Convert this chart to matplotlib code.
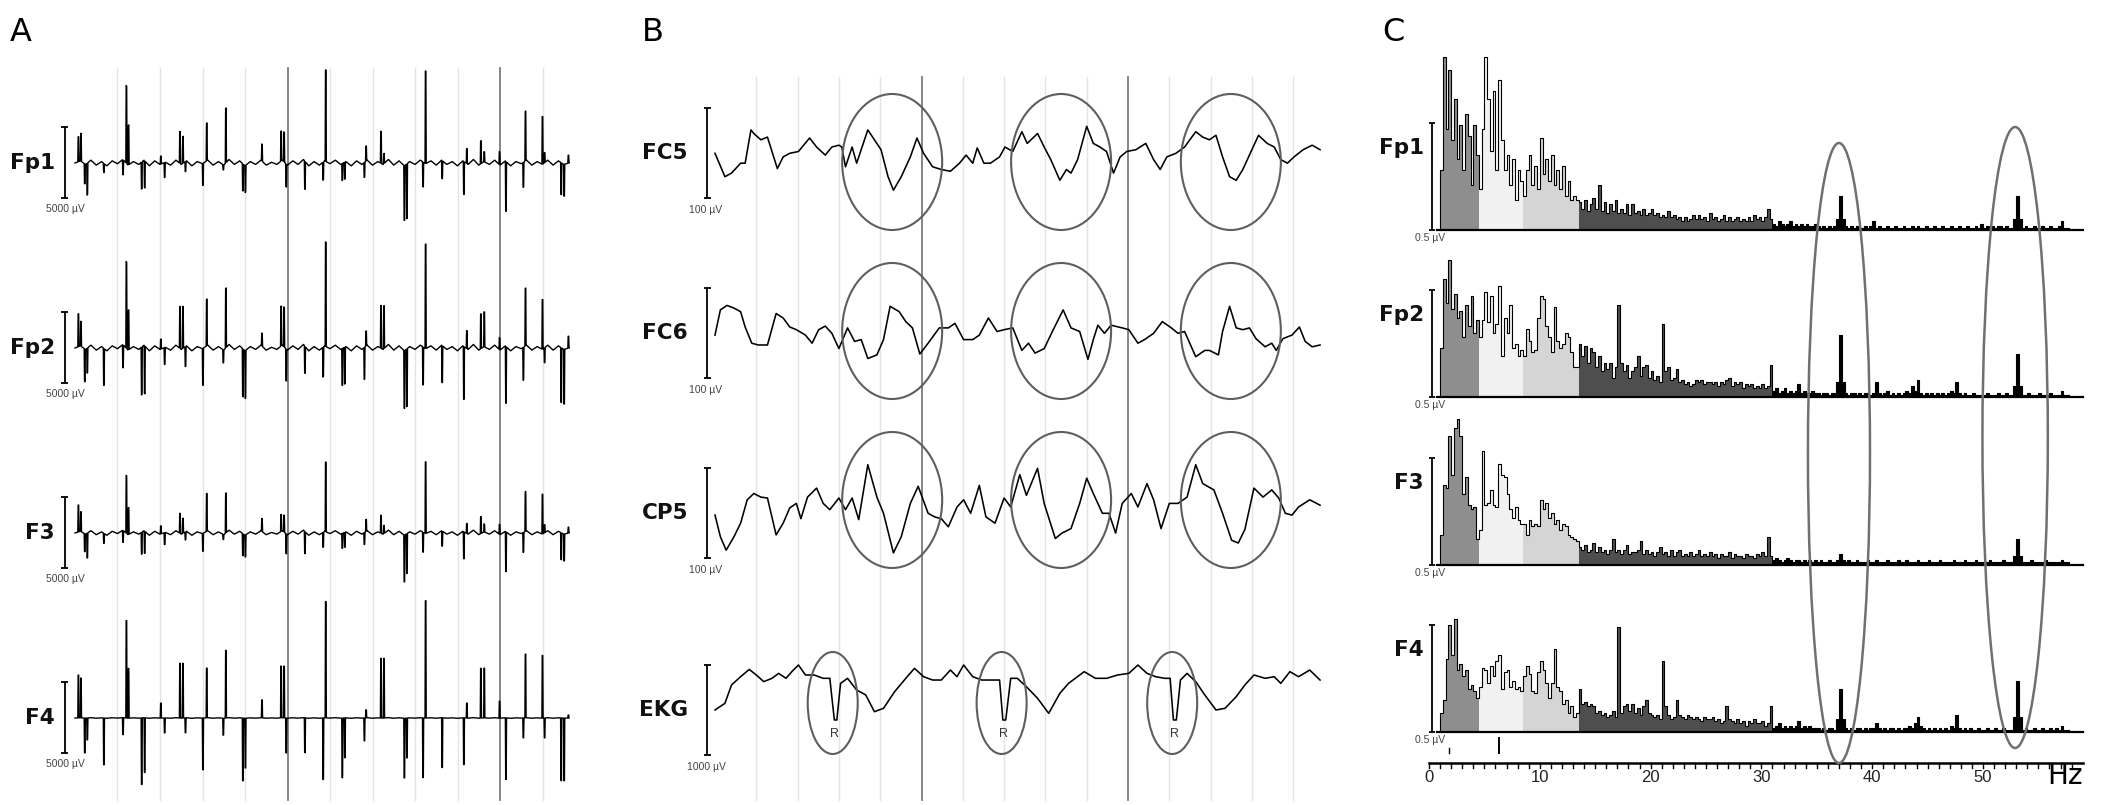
import numpy as np
import matplotlib
matplotlib.use("Agg")
import matplotlib.pyplot as plt
from matplotlib.patches import Ellipse

# ------------------------------------------------------------------ DATA
# Panel A : spike artefacts (time in s, amplitude in uV)
A_channels = ["Fp1", "Fp2", "F3", "F4"]
A_scale_uv = 5000
A_event_t = [0.08, 0.14, 0.23, 0.29, 0.68, 1.13, 1.21, 1.26, 1.57, 1.64,
             2.02, 2.11, 2.47, 2.54, 2.60, 3.01, 3.10, 3.49, 3.55, 3.95,
             4.01, 4.40, 4.85, 4.92, 4.97, 5.41, 5.84, 5.90, 6.29, 6.35,
             6.81, 6.85, 7.20, 7.27, 7.75, 7.81, 8.19, 8.25, 8.64, 9.15,
             9.22, 9.55, 9.63, 9.99, 10.14, 10.55, 10.60, 11.00, 11.05, 11.44,
             11.51, 11.61]
A_Fp1_amp = [1750, 1960, -1400, -2240, -630, -1050, 5460, 2800, -1890, -1890,
             560, -1050, 2240, 1890, -700, -1540, 2660, -350, 3850, -1890,
             -1890, 1190, 2100, 2100, -1610, -1960, -1260, 6440, -1190, -1190,
             -1050, 1050, 2240, 700, -3850, -3850, -1750, 6510, -1260, -2310,
             1050, 1610, 700, 910, -3500, -1750, 3500, 3360, 700, -2240,
             -2240, 560]
A_Fp2_amp = [2310, 1750, -2310, -1750, -2590, -1610, 6090, 2800, -3360, -3360,
             700, -1190, 2940, 2940, -1400, -2590, 3290, -910, 4200, -3360,
             -3360, 910, 2800, 2800, -2240, -1890, -2100, 7350, -2590, -2590,
             -2240, 1050, 3010, 3010, -4060, -4060, -2660, 7350, -2590, -3710,
             1260, 2450, 2450, 840, -3990, -2310, 4060, 3500, -1050, -3850,
             -3850, 840]
A_F3_amp = [1890, 1400, -1260, -1750, -700, -840, 4060, 1890, -1540, -1540,
            560, -840, 1400, 1050, -560, -1260, 2660, -350, 2800, -1540,
            -1540, 910, 1190, 1190, -1400, -1540, -1050, 4900, -1050, -1050,
            -840, 840, 1260, 560, -3290, -2800, -1400, 5040, -1050, -1890,
            700, 1190, 560, 700, -2800, -1400, 2800, 2800, 560, -1890,
            -1890, 420]
A_F4_amp = [3010, 2800, -2450, -1540, -3290, -1190, 6860, 3500, -4690, -3850,
            1050, -1050, 3850, 3850, -1050, -3640, 3500, -1190, 4760, -4410,
            -3500, 1260, 3640, 3640, -2450, -2450, -4340, 8190, -4200, -2800,
            -1610, 560, 4200, 4200, -4200, -2800, -4200, 8260, -3500, -3290,
            1050, 3500, 3500, 1190, -4340, -1400, 4480, 4410, -1400, -4410,
            -4410, 210]
# background ripple, one sample every 0.125 s (uV)
A_ripple_dt = 0.125
A_ripple = [0, 150, -100, 200, -150, 100, -200, 150, -50, 250, -150, 100, -100, 200, -200, 150, -100, 50, -150, 200,
            -100, 150, -200, 100, -50, 200, -150, 100, -150, 250, -100, 150, -200, 100, -100, 200, -150, 50, -100, 200,
            -150, 150, -100, 250, -200, 100, -150, 150, -50, 200, -100, 100, -200, 150, -100, 200, -150, 100, -100, 250,
            -150, 150, -200, 100, -100, 200, -50, 150, -150, 200, -100, 100, -200, 150, -100, 250, -150, 100, -100, 200,
            -150, 150, -200, 100, -50, 200, -150, 100, -100, 200, -150, 150, -100, 0]
A_ripple_gain = [1.0, 1.0, 0.8, 0.1]

# Panel B : EEG / EKG traces (time in s, value in uV)
B_channels = ["FC5", "FC6", "CP5", "EKG"]
B_scale_labels = ["100 µV", "100 µV", "100 µV", "1000 µV"]
B_FC5_t = [0.00, 0.24, 0.40, 0.62, 0.73, 0.87, 0.94, 1.11, 1.27, 1.51, 1.65, 1.81, 2.02, 2.29, 2.46, 2.67, 2.83,
           3.00, 3.07, 3.16, 3.32, 3.43, 3.70, 3.86, 4.02, 4.19, 4.32, 4.51, 4.73, 4.89, 5.05, 5.27, 5.48, 5.70,
           5.92, 6.08, 6.24, 6.35, 6.51, 6.67, 6.89, 7.02, 7.21, 7.43, 7.56, 7.81, 7.97, 8.13, 8.35, 8.51, 8.62,
           8.78, 9.00, 9.16, 9.32, 9.48, 9.65, 9.81, 9.97, 10.19, 10.43, 10.62, 10.78, 10.94, 11.16, 11.37, 11.64,
           11.81, 11.97, 12.13, 12.29, 12.46, 12.62, 12.78, 13.00, 13.16, 13.37, 13.54, 13.70, 13.86, 14.02, 14.24,
           14.46, 14.65]
B_FC5_v = [0, -26, -22, -11, -11, 26, 22, 15, 18, -17, -4, 0, 2, 17, 7, -2, 7, 9, 7, -15, 7, -11, 26, 15, 4,
           -26, -41, -26, -4, 17, 0, -15, -18, -20, -11, -2, -11, 6, -11, -11, -4, 7, 2, 24, 11, 22, 7, -7, -30,
           -18, -22, -7, 30, 11, 7, 2, -22, -4, 2, 4, 11, -7, -18, -4, 0, 7, 24, 18, 15, 20, -4, -26, -30, -18, 4,
           20, 11, 7, -7, -11, -4, 4, 9, 4]
B_FC6_t = [0.00, 0.13, 0.29, 0.46, 0.62, 0.73, 0.89, 1.05, 1.27, 1.48, 1.65, 1.81, 1.97, 2.19, 2.35, 2.51, 2.67,
           2.83, 3.00, 3.21, 3.38, 3.54, 3.70, 3.92, 4.08, 4.24, 4.46, 4.62, 4.78, 4.96, 5.16, 5.43, 5.65, 5.81,
           6.02, 6.24, 6.40, 6.62, 6.83, 7.00, 7.21, 7.43, 7.59, 7.75, 7.97, 8.19, 8.43, 8.62, 8.83, 9.03, 9.16,
           9.27, 9.43, 9.59, 9.86, 10.02, 10.24, 10.40, 10.62, 10.83, 11.05, 11.21, 11.37, 11.64, 11.86, 11.97,
           12.19, 12.29, 12.46, 12.62, 12.78, 12.94, 13.10, 13.32, 13.48, 13.59, 13.75, 13.97, 14.15, 14.29, 14.46,
           14.65]
B_FC6_v = [-2, 26, 31, 28, 24, 7, -11, -13, -13, 22, 17, 7, 4, -2, -11, 4, 8, 0, -17, 6, -9, -7, -28, -24, -7,
           30, 24, 13, 6, -23, -11, 6, 6, 11, -7, -7, -2, 17, 2, 4, 6, -19, -11, -22, -17, 4, 26, 6, 2, -29, -7, 9,
           0, 9, 6, 4, -11, -7, 0, 13, 6, 0, 2, -26, -19, -19, -24, 2, 30, 6, 4, 6, -6, -15, -11, -19, -6, -2, 7,
           -9, -15, -13]
B_CP5_t = [0.00, 0.13, 0.27, 0.46, 0.62, 0.78, 0.94, 1.11, 1.27, 1.48, 1.65, 1.81, 1.97, 2.08, 2.24, 2.46, 2.62,
           2.78, 3.00, 3.16, 3.32, 3.48, 3.70, 3.92, 4.08, 4.32, 4.51, 4.73, 4.92, 5.16, 5.32, 5.48, 5.65, 5.86,
           6.02, 6.19, 6.40, 6.56, 6.78, 7.00, 7.16, 7.38, 7.54, 7.81, 7.97, 8.24, 8.40, 8.62, 8.83, 9.00, 9.16,
           9.38, 9.54, 9.70, 9.86, 10.08, 10.24, 10.46, 10.62, 10.80, 11.00, 11.21, 11.43, 11.64, 11.81, 12.08,
           12.29, 12.51, 12.67, 12.83, 13.05, 13.27, 13.48, 13.65, 13.81, 13.97, 14.13, 14.40, 14.65]
B_CP5_v = [-2, -26, -41, -26, -11, 15, 22, 18, 17, -24, -11, 6, 11, -6, 18, 28, 11, 4, 17, 4, 17, -7, 54, 18, 0,
           -44, -26, 11, 30, 0, -4, -6, -15, 7, 15, 0, 31, -4, -11, 17, 7, 43, 20, 50, 11, -28, -22, -17, 11, 39,
           22, 0, 0, -22, 11, 22, 7, 33, 15, -17, 11, 11, 18, 54, 33, 26, 0, -30, -33, -18, 28, 18, 26, 17, 0, -2,
           7, 15, 9]
B_EKG_t = [0.00, 0.24, 0.40, 0.62, 0.83, 1.00, 1.18, 1.38, 1.54, 1.72, 1.86, 2.02, 2.19, 2.40, 2.62, 2.78, 2.89,
           2.95, 3.04, 3.21, 3.43, 3.65, 3.86, 4.08, 4.35, 4.62, 4.83, 5.05, 5.27, 5.48, 5.70, 5.86, 6.02, 6.24,
           6.46, 6.78, 6.89, 6.97, 7.04, 7.16, 7.32, 7.54, 7.81, 8.08, 8.35, 8.56, 8.94, 9.21, 9.48, 9.75, 10.02,
           10.24, 10.46, 10.67, 10.89, 11.02, 11.10, 11.17, 11.27, 11.43, 11.64, 11.86, 12.13, 12.35, 12.62, 12.83,
           13.05, 13.32, 13.54, 13.70, 13.92, 14.13, 14.40, 14.65]
B_EKG_v = [0, 74, 278, 370, 451, 389, 315, 352, 407, 352, 426, 500, 389, 389, 352, 352, -111, -111, 296, 352, 222,
           167, -19, 19, 204, 352, 463, 370, 333, 333, 444, 370, 500, 370, 333, 333, 333, -111, -111, 352, 352, 259,
           130, -37, 185, 296, 426, 352, 352, 389, 407, 500, 407, 370, 352, 352, -111, -111, 333, 407, 315, 167, 0,
           19, 148, 278, 389, 352, 370, 296, 426, 370, 444, 333]
B_gain = [1.0, 1.0, 1.0, 0.1]
B_R_t = [2.90, 6.99, 11.12]

# Panel C : amplitude spectra, bins of 0.25 Hz starting at 1 Hz (uV)
C_channels = ["Fp1", "Fp2", "F3", "F4"]
C_f0, C_df = 1.0, 0.25
C_band_colors = ["#8e8e8e", "#f1f1f1", "#d5d5d5", "#4e4e4e", "#000000"]
C_Fp1_delta = [0.28, 0.81, 0.47, 0.75, 0.42, 0.61, 0.33, 0.49, 0.28, 0.54, 0.44, 0.21, 0.49, 0.35]
C_Fp1_theta = [0.19, 0.47, 0.81, 0.61, 0.37, 0.65, 0.28, 0.70, 0.42, 0.28, 0.35, 0.21, 0.33, 0.14, 0.28, 0.23]
C_Fp1_alpha = [0.16, 0.28, 0.35, 0.21, 0.30, 0.19, 0.43, 0.26, 0.33, 0.23, 0.35, 0.21, 0.28, 0.19, 0.30, 0.16,
               0.23, 0.14, 0.16, 0.14]
C_Fp1_beta = [0.13, 0.10, 0.14, 0.09, 0.12, 0.15, 0.10, 0.21, 0.09, 0.13, 0.08, 0.12, 0.09, 0.14, 0.08, 0.10,
              0.08, 0.12, 0.07, 0.12, 0.08, 0.09, 0.07, 0.10, 0.07, 0.08, 0.10, 0.07, 0.08, 0.06, 0.07, 0.06,
              0.09, 0.06, 0.07, 0.05, 0.06, 0.04, 0.06, 0.04, 0.05, 0.07, 0.05, 0.07, 0.05, 0.06, 0.04, 0.08,
              0.05, 0.06, 0.04, 0.05, 0.07, 0.04, 0.06, 0.04, 0.05, 0.06, 0.04, 0.05, 0.04, 0.06, 0.04, 0.07,
              0.05, 0.06, 0.04, 0.06, 0.10, 0.05]
C_Fp1_gamma = [0.03, 0.02, 0.04, 0.03, 0.02, 0.03, 0.04, 0.02, 0.03, 0.02, 0.03, 0.02, 0.03, 0.02, 0.02, 0.03,
               0.02, 0.01, 0.02, 0.01, 0.02, 0.01, 0.02,
               0.05, 0.16, 0.05,
               0.02, 0.01, 0.02, 0.01, 0.02, 0.01, 0.01, 0.02, 0.01, 0.02,
               0.04, 0.01, 0.02, 0.01, 0.01, 0.02, 0.01, 0.01, 0.02, 0.01,
               0.01, 0.02, 0.01, 0.01, 0.02, 0.01, 0.02, 0.01, 0.01, 0.02,
               0.01, 0.01, 0.02, 0.01, 0.01, 0.02, 0.01, 0.01, 0.02, 0.01,
               0.01, 0.02, 0.01, 0.01, 0.02, 0.01, 0.01, 0.02, 0.01, 0.03,
               0.01, 0.02, 0.01, 0.02, 0.01, 0.02, 0.02, 0.01, 0.02, 0.01, 0.01,
               0.05, 0.16, 0.05,
               0.01, 0.02, 0.01, 0.01, 0.02, 0.01, 0.01, 0.02, 0.01, 0.01, 0.02, 0.01, 0.01, 0.02, 0.04, 0.01, 0.01]
C_Fp2_delta = [0.23, 0.55, 0.44, 0.64, 0.41, 0.48, 0.37, 0.40, 0.28, 0.43, 0.33, 0.47, 0.30, 0.36]
C_Fp2_theta = [0.28, 0.36, 0.49, 0.35, 0.47, 0.30, 0.34, 0.52, 0.19, 0.37, 0.30, 0.43, 0.23, 0.25, 0.19, 0.22]
C_Fp2_alpha = [0.19, 0.32, 0.26, 0.21, 0.22, 0.37, 0.47, 0.46, 0.33, 0.28, 0.21, 0.42, 0.26, 0.23, 0.25, 0.30,
               0.28, 0.21, 0.14, 0.14]
C_Fp2_beta = [0.25, 0.19, 0.24, 0.16, 0.23, 0.21, 0.14, 0.19, 0.12, 0.16, 0.13, 0.16, 0.09, 0.14, 0.43, 0.16,
              0.12, 0.15, 0.09, 0.12, 0.14, 0.19, 0.10, 0.14, 0.15, 0.09, 0.12, 0.08, 0.10, 0.07, 0.34, 0.12,
              0.14, 0.08, 0.09, 0.13, 0.07, 0.08, 0.06, 0.07, 0.05, 0.06, 0.08, 0.07, 0.08, 0.06, 0.07, 0.07,
              0.06, 0.07, 0.05, 0.07, 0.06, 0.08, 0.09, 0.05, 0.07, 0.06, 0.07, 0.04, 0.06, 0.05, 0.06, 0.04,
              0.05, 0.04, 0.06, 0.04, 0.05, 0.15]
C_Fp2_gamma = [0.03, 0.04, 0.02, 0.03, 0.04, 0.02, 0.03, 0.02, 0.03, 0.06, 0.02, 0.03, 0.02, 0.02, 0.03, 0.02,
               0.02, 0.01, 0.02, 0.02, 0.01, 0.02, 0.02,
               0.07, 0.29, 0.07,
               0.02, 0.01, 0.02, 0.02, 0.01, 0.02, 0.01, 0.02, 0.02, 0.01,
               0.02, 0.07, 0.02, 0.01, 0.02, 0.03, 0.01, 0.02, 0.01, 0.02,
               0.01, 0.02, 0.03, 0.02, 0.05, 0.03, 0.08, 0.02, 0.01, 0.02,
               0.01, 0.02, 0.01, 0.02, 0.01, 0.02, 0.01, 0.02, 0.03, 0.02,
               0.07, 0.02, 0.01, 0.02, 0.01, 0.01, 0.02, 0.01, 0.01, 0.01,
               0.01, 0.02, 0.01, 0.01, 0.01, 0.02, 0.01, 0.01, 0.02, 0.01, 0.01,
               0.05, 0.20, 0.05,
               0.01, 0.01, 0.02, 0.01, 0.01, 0.01, 0.02, 0.01, 0.01, 0.01, 0.02, 0.01, 0.01, 0.01, 0.03, 0.01, 0.01]
C_F3_delta = [0.14, 0.37, 0.36, 0.60, 0.42, 0.64, 0.68, 0.60, 0.33, 0.41, 0.28, 0.26, 0.27, 0.12]
C_F3_theta = [0.16, 0.53, 0.28, 0.29, 0.35, 0.28, 0.27, 0.47, 0.42, 0.41, 0.33, 0.26, 0.22, 0.27, 0.21, 0.19]
C_F3_alpha = [0.19, 0.14, 0.21, 0.18, 0.19, 0.18, 0.30, 0.26, 0.29, 0.22, 0.24, 0.19, 0.21, 0.16, 0.19, 0.18,
              0.14, 0.13, 0.12, 0.11]
C_F3_beta = [0.08, 0.07, 0.09, 0.06, 0.07, 0.10, 0.06, 0.08, 0.06, 0.07, 0.05, 0.07, 0.12, 0.06, 0.07, 0.05,
             0.07, 0.09, 0.05, 0.06, 0.06, 0.07, 0.11, 0.05, 0.07, 0.05, 0.06, 0.04, 0.06, 0.08, 0.05, 0.06,
             0.04, 0.07, 0.04, 0.06, 0.07, 0.04, 0.05, 0.04, 0.06, 0.04, 0.05, 0.07, 0.04, 0.05, 0.04, 0.06,
             0.04, 0.05, 0.03, 0.05, 0.04, 0.04, 0.06, 0.03, 0.05, 0.04, 0.04, 0.03, 0.05, 0.04, 0.04, 0.03,
             0.05, 0.04, 0.06, 0.04, 0.13, 0.04]
C_F3_gamma = [0.02, 0.03, 0.02, 0.01, 0.02, 0.03, 0.02, 0.01, 0.02, 0.02, 0.01, 0.02, 0.01, 0.02, 0.01, 0.02,
              0.01, 0.02, 0.01, 0.01, 0.02, 0.01, 0.01,
              0.02, 0.05, 0.02,
              0.01, 0.02, 0.01, 0.01, 0.02, 0.01, 0.01, 0.01, 0.02, 0.01,
              0.01, 0.02, 0.01, 0.01, 0.01, 0.02, 0.01, 0.01, 0.01, 0.02,
              0.01, 0.01, 0.02, 0.01, 0.01, 0.01, 0.02, 0.01, 0.01, 0.01,
              0.02, 0.01, 0.01, 0.01, 0.02, 0.01, 0.01, 0.01, 0.01, 0.02,
              0.01, 0.01, 0.01, 0.02, 0.01, 0.01, 0.01, 0.02, 0.01, 0.01,
              0.01, 0.01, 0.02, 0.01, 0.01, 0.01, 0.01, 0.02, 0.01, 0.01, 0.01,
              0.04, 0.12, 0.04,
              0.01, 0.01, 0.01, 0.02, 0.01, 0.01, 0.01, 0.01, 0.02, 0.01, 0.01, 0.01, 0.01, 0.01, 0.02, 0.01, 0.01]
C_F4_delta = [0.09, 0.15, 0.34, 0.50, 0.36, 0.53, 0.29, 0.32, 0.26, 0.29, 0.20, 0.22, 0.19, 0.16]
C_F4_theta = [0.21, 0.30, 0.29, 0.23, 0.31, 0.26, 0.33, 0.36, 0.20, 0.28, 0.29, 0.21, 0.24, 0.20, 0.21, 0.19]
C_F4_alpha = [0.26, 0.31, 0.27, 0.19, 0.18, 0.28, 0.33, 0.29, 0.23, 0.16, 0.23, 0.39, 0.21, 0.19, 0.13, 0.15,
              0.09, 0.12, 0.07, 0.09]
C_F4_beta = [0.20, 0.13, 0.14, 0.12, 0.13, 0.12, 0.09, 0.10, 0.08, 0.09, 0.07, 0.08, 0.10, 0.07, 0.49, 0.09,
             0.12, 0.13, 0.10, 0.13, 0.09, 0.11, 0.08, 0.12, 0.15, 0.09, 0.08, 0.07, 0.08, 0.06, 0.33, 0.12,
             0.08, 0.06, 0.07, 0.15, 0.08, 0.07, 0.06, 0.08, 0.07, 0.06, 0.07, 0.06, 0.05, 0.07, 0.06, 0.06,
             0.07, 0.05, 0.06, 0.04, 0.05, 0.12, 0.06, 0.05, 0.04, 0.06, 0.04, 0.05, 0.03, 0.05, 0.04, 0.06,
             0.04, 0.04, 0.05, 0.03, 0.04, 0.12]
C_F4_gamma = [0.02, 0.03, 0.04, 0.02, 0.03, 0.02, 0.03, 0.02, 0.03, 0.05, 0.02, 0.03, 0.02, 0.03, 0.02, 0.02,
              0.02, 0.01, 0.02, 0.01, 0.02, 0.02, 0.01,
              0.06, 0.20, 0.06,
              0.02, 0.01, 0.02, 0.01, 0.02, 0.02, 0.01, 0.02, 0.01, 0.02,
              0.02, 0.04, 0.02, 0.01, 0.02, 0.01, 0.02, 0.02, 0.01, 0.02,
              0.01, 0.02, 0.02, 0.03, 0.02, 0.04, 0.07, 0.03, 0.02, 0.01,
              0.02, 0.01, 0.02, 0.01, 0.02, 0.01, 0.02, 0.01, 0.03, 0.02,
              0.08, 0.02, 0.01, 0.02, 0.01, 0.02, 0.01, 0.01, 0.02, 0.01,
              0.01, 0.02, 0.01, 0.01, 0.02, 0.01, 0.01, 0.02, 0.01, 0.01, 0.01,
              0.07, 0.24, 0.07,
              0.01, 0.02, 0.01, 0.01, 0.02, 0.01, 0.01, 0.02, 0.01, 0.01, 0.02, 0.01, 0.02, 0.01, 0.03, 0.01, 0.01]
C_xticks = [0, 10, 20, 30, 40, 50]
C_ellipse_f = [37.0, 52.9]

# ------------------------------------------------------------------ FIGURE
W, H, DPI = 2102, 805, 100
fig = plt.figure(figsize=(W / DPI, H / DPI), dpi=DPI)
fig.patch.set_facecolor("white")
LBL = dict(fontsize=15.5, fontweight="bold", family="DejaVu Sans", color="#111111")
SMALL = dict(fontsize=7.5, family="Liberation Sans", color="#444444")
LET = dict(fontsize=23, family="DejaVu Sans", color="black", va="top", ha="left")

fig.text(10 / W, 1 - 17 / H, "A", **LET)
fig.text(642 / W, 1 - 17 / H, "B", **LET)
fig.text(1382 / W, 1 - 17 / H, "C", **LET)


def scale_bar(ax, x, y0, y1, cap):
    for xs, ys in (([x, x], [y0, y1]), ([x - cap, x + cap], [y0, y0]), ([x - cap, x + cap], [y1, y1])):
        ax.plot(xs, ys, color="black", lw=1.3, solid_capstyle="butt", zorder=4)


# ------------------------------------------------------------------ PANEL A
A_K = A_scale_uv / 71.0
def A_x(px): return (px - 75) / 42.5
def A_y(py): return (163 - py) * A_K

axA = fig.add_axes([0, 0, 600 / W, 1])
axA.set_xlim(A_x(0), A_x(600)); axA.set_ylim(A_y(805), A_y(0)); axA.axis("off")
for s in range(1, 12):
    dark = s % 5 == 0
    axA.plot([s, s], [A_y(68), A_y(800)], color="#7c7c7c" if dark else "#e4e4e4",
             lw=1.3 if dark else 1.0, zorder=1)

ripple = np.array(A_ripple, float)
t_r = A_ripple_dt * np.arange(len(ripple))
ev = np.array(A_event_t)
w1, w2 = 0.006, 0.014
keep = np.all(np.abs(t_r[:, None] - ev[None, :]) > w2, axis=1)
A_base_px = [163, 348, 533, 718]
for name, amps, g, by in zip(A_channels, [A_Fp1_amp, A_Fp2_amp, A_F3_amp, A_F4_amp], A_ripple_gain, A_base_px):
    base = ripple * g
    amp = np.array(amps, float)
    bi = lambda tt: np.interp(tt, t_r, base)
    ts = np.concatenate([t_r[keep], ev - w2, ev - w1, ev + w1, ev + w2])
    vs = np.concatenate([base[keep], bi(ev - w2), bi(ev - w1) + amp, bi(ev + w1) + amp, bi(ev + w2)])
    o = np.argsort(ts, kind="stable")
    axA.plot(ts[o], vs[o] + A_y(by), color="black", lw=1.0, zorder=3)
    axA.text(A_x(55), A_y(by), name, ha="right", va="center", **LBL)
    scale_bar(axA, A_x(65), A_y(by) - A_scale_uv / 2, A_y(by) + A_scale_uv / 2, 3.5 / 42.5)
    axA.text(A_x(65), A_y(by + 46), f"{A_scale_uv} µV", ha="center", va="center", **SMALL)

# ------------------------------------------------------------------ PANEL B
B_K = 100 / 90.0
def B_x(px): return (px - 715) / 41.3
def B_y(py): return (153.3 - py) * B_K

axB = fig.add_axes([600 / W, 0, 770 / W, 1])
axB.set_xlim(B_x(600), B_x(1370)); axB.set_ylim(B_y(805), B_y(0)); axB.axis("off")
for s in range(1, 15):
    dark = s % 5 == 0
    axB.plot([s, s], [B_y(77), B_y(800)], color="#7c7c7c" if dark else "#e4e4e4",
             lw=1.3 if dark else 1.0, zorder=1)
B_base_px = [153.3, 333.3, 513.3, 710]
B_traces = [(B_FC5_t, B_FC5_v), (B_FC6_t, B_FC6_v), (B_CP5_t, B_CP5_v), (B_EKG_t, B_EKG_v)]
for name, (tt, vv), g, by, sl in zip(B_channels, B_traces, B_gain, B_base_px, B_scale_labels):
    n = min(len(tt), len(vv))
    axB.plot(np.array(tt[:n]), np.array(vv[:n], float) * g + B_y(by), color="black", lw=1.15, zorder=3)
    axB.text(B_x(688), B_y(by), name, ha="right", va="center", **LBL)
    scale_bar(axB, B_x(707), B_y(by) - 50, B_y(by) + 50, 3.5 / 41.3)
    axB.text(B_x(706), B_y(by + 57), sl, ha="center", va="center", **SMALL)

for yc in [162, 331, 500]:
    for tc in [4.29, 8.38, 12.49]:
        axB.add_patch(Ellipse((tc, B_y(yc)), 100 / 41.3, 136 * B_K, fill=False,
                              ec="#5e5e5e", lw=1.5, zorder=5))
for tc in [2.85, 6.94, 11.07]:
    axB.add_patch(Ellipse((tc, B_y(703)), 50 / 41.3, 102 * B_K, fill=False, ec="#5e5e5e", lw=1.5, zorder=5))
for tr in B_R_t:
    axB.text(tr, B_y(734), "R", ha="center", va="center", fontsize=9, family="Liberation Sans", color="#333333")

# ------------------------------------------------------------------ PANEL C
C_K = 0.5 / 107.0
def C_x(px): return (px - 1429) / 11.08
def C_y(py): return (230 - py) * C_K

axC = fig.add_axes([1370 / W, 0, 732 / W, 1])
axC.set_xlim(C_x(1370), C_x(2102)); axC.set_ylim(C_y(805), C_y(0)); axC.axis("off")
C_base_px = [230, 397, 564.6, 732]
C_data = [
    [C_Fp1_delta, C_Fp1_theta, C_Fp1_alpha, C_Fp1_beta, C_Fp1_gamma],
    [C_Fp2_delta, C_Fp2_theta, C_Fp2_alpha, C_Fp2_beta, C_Fp2_gamma],
    [C_F3_delta, C_F3_theta, C_F3_alpha, C_F3_beta, C_F3_gamma],
    [C_F4_delta, C_F4_theta, C_F4_alpha, C_F4_beta, C_F4_gamma],
]
for name, bands, by in zip(C_channels, C_data, C_base_px):
    off = C_y(by)
    vals = np.concatenate([np.array(b, float) for b in bands])
    edges = C_f0 + C_df * np.arange(len(vals) + 1)
    i0 = 0
    for b, col in zip(bands, C_band_colors):
        i1 = i0 + len(b)
        x = edges[i0:i1 + 1]
        y = np.append(vals[i0:i1], vals[i1 - 1]) + off
        axC.fill_between(x, off, y, step="post", color=col, lw=0, zorder=2)
        i0 = i1
    xs = np.concatenate([[edges[0]], edges])
    ys = np.concatenate([[0], vals, [vals[-1]]])
    axC.step(xs, ys + off, where="post", color="black", lw=0.8, zorder=3)
    axC.plot([edges[-1], edges[-1]], [off, off + vals[-1]], color="black", lw=0.8, zorder=3)
    axC.plot([C_x(1437), C_x(2083)], [off, off], color="black", lw=1.6, zorder=4)
    axC.text(C_x(1424), C_y(by - 82), name, ha="right", va="center", **LBL)
    scale_bar(axC, C_x(1431.6), off, off + 0.5, 3.0 / 11.08)
    axC.text(C_x(1430), C_y(by + 8), "0.5 µV", ha="center", va="center", **SMALL)

# frequency axis
yax = C_y(763)
axC.plot([0, C_x(2083)], [yax, yax], color="black", lw=1.8, zorder=4)
for f in range(0, 59):
    axC.plot([f, f], [yax, C_y(767.5)], color="black", lw=1.0, zorder=4)
for f in C_xticks:
    axC.text(f, C_y(777), str(f), ha="center", va="center", fontsize=12,
             family="Liberation Sans", color="#222222")
axC.text(C_x(2083), C_y(776), "Hz", ha="right", va="center", fontsize=20, family="DejaVu Sans", color="black")
# cursor marks under F4
axC.plot([1.8, 1.8], [C_y(748), C_y(753)], color="black", lw=1.0)
axC.plot([6.3, 6.3], [C_y(738), C_y(753)], color="black", lw=1.4)

for fc, yc, hh, ww in zip(C_ellipse_f, [453, 437.5], [620, 621], [5.6, 5.9]):
    axC.add_patch(Ellipse((fc, C_y(yc)), ww, hh * C_K, fill=False, ec="#707070", lw=1.8, zorder=6))

fig.savefig("out.png", dpi=DPI, facecolor="white")
